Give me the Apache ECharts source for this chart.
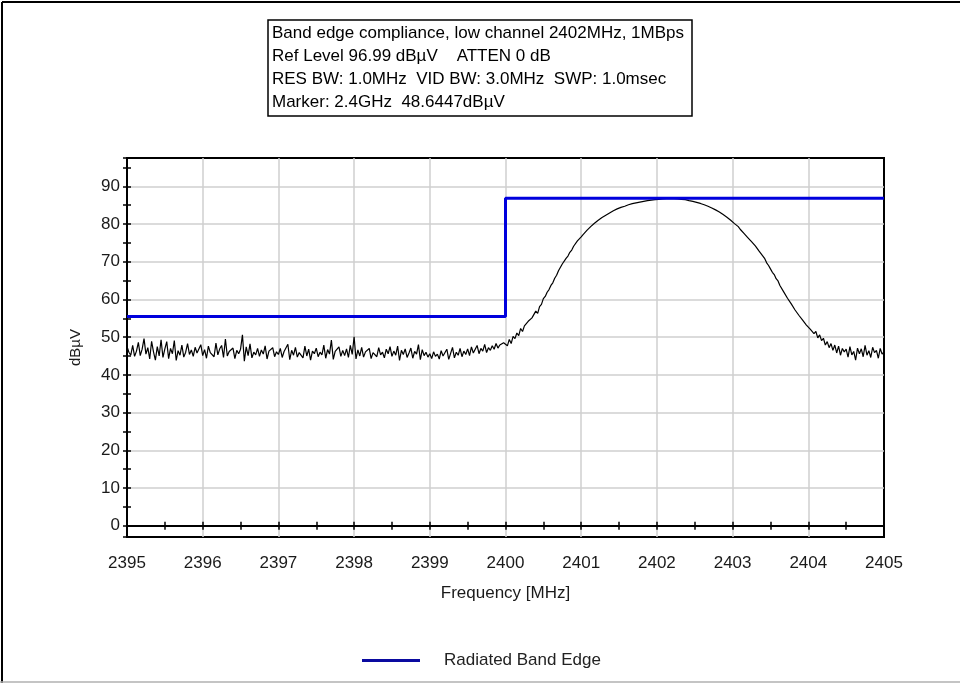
<!DOCTYPE html>
<html>
<head>
<meta charset="utf-8">
<title>Band edge compliance</title>
<script src="https://cdn.jsdelivr.net/npm/echarts@6/dist/echarts.min.js"></script>
<style>
	html, body { margin: 0; padding: 0; background: #ffffff; }
	#chart { width: 960px; height: 683px; }
</style>
</head>
<body>
<div id="chart"></div>
<script>
// sweep: 2395 .. 2405 MHz, 401 points
var sweepStart = 2395;
var sweepStep = 0.025;

// measured level below the band edge (2395.000 .. 2399.975)
var traceBelowEdge = [
	47.5, 46.0, 45.2, 47.8, 44.9, 46.3, 48.6, 45.1, 46.8, 49.6, 45.5, 47.2, 44.2, 48.9, 46.1, 43.9, 47.5, 45.0, 49.3, 44.6,
	46.9, 48.8, 44.3, 47.0, 45.6, 49.1, 43.8, 46.4, 45.2, 47.9, 44.7, 46.0, 48.3, 45.4, 46.6, 44.9, 47.3, 45.8, 46.2, 48.0,
	45.1, 46.7, 44.4, 47.6, 45.9, 46.3, 44.8, 48.4, 45.3, 46.9, 47.8, 44.6, 49.5, 45.0, 46.2, 45.7, 47.1, 44.3, 46.5, 45.6,
	46.8, 50.6, 43.6, 47.4, 45.1, 48.2, 44.5, 46.0, 45.3, 47.0, 44.9, 46.6, 45.5, 47.7, 44.2, 46.3, 45.8, 47.2, 44.8, 46.1,
	45.4, 47.0, 44.6, 46.2, 45.9, 48.1, 44.0, 46.5, 45.2, 47.3, 44.7, 45.9, 46.4, 44.5, 47.6, 45.0, 46.8, 43.9, 46.3, 45.6,
	47.1, 44.8, 46.0, 45.3, 47.9, 44.4, 46.7, 45.5, 49.2, 44.1, 46.2, 45.7, 47.4, 44.9, 46.5, 45.1, 46.9, 44.6, 47.8, 45.4,
	50.1, 44.2, 46.6, 45.0, 47.3, 44.7, 46.1, 45.8, 47.0, 44.3, 45.9, 46.4, 44.8, 47.2, 45.3, 46.0, 44.5, 46.8, 45.6, 47.5,
	44.9, 46.3, 45.2, 47.6, 43.8, 46.5, 45.4, 46.9, 44.6, 45.8, 47.1, 44.4, 46.2, 45.5, 48.0, 44.0, 46.7, 45.1, 46.0, 44.7,
	45.6, 44.3, 46.1, 44.9, 45.5, 44.2, 46.4, 45.0, 44.6, 46.8, 44.1, 45.7, 47.3, 44.5, 46.0, 45.2, 47.0, 44.8, 46.3, 45.4,
	46.9, 45.1, 47.4, 45.8, 46.2, 47.8, 45.6, 47.0, 46.3, 48.1, 45.9, 47.2, 46.5, 47.7, 46.8, 48.3, 47.1, 47.9, 47.4, 48.5
];

// measured level from the band edge up (2400.000 .. 2405.000)
var traceAboveEdge = [
	48.6, 47.7, 49.4, 48.3, 50.2, 49.6, 51.1, 50.4, 52.3, 51.5, 53.0, 52.6, 54.2, 53.8, 55.1, 55.6, 56.9, 56.3, 58.1, 58.7,
	60.2, 60.8, 61.9, 62.6, 63.7, 64.4, 65.6, 66.4, 67.6, 68.1, 69.4, 69.8, 70.9, 71.5, 72.5, 73.1, 74.1, 74.5, 75.5, 75.9,
	76.6, 77.2, 77.7, 78.3, 78.8, 79.3, 79.7, 80.2, 80.6, 81.0, 81.3, 81.7, 82.0, 82.3, 82.6, 82.9, 83.2, 83.5, 83.7, 84.0,
	84.2, 84.4, 84.6, 84.7, 84.9, 85.1, 85.2, 85.4, 85.5, 85.6, 85.7, 85.8, 85.9, 86.0, 86.1, 86.2, 86.3, 86.35, 86.4, 86.45,
	86.5, 86.55, 86.6, 86.65, 86.7, 86.7, 86.75, 86.75, 86.7, 86.7, 86.7, 86.65, 86.6, 86.55, 86.5, 86.45, 86.3, 86.2, 86.1, 86.0,
	85.9, 85.75, 85.6, 85.45, 85.3, 85.1, 84.9, 84.7, 84.5, 84.25, 84.0, 83.75, 83.5, 83.2, 82.85, 82.5, 82.2, 81.8, 81.4, 81.0,
	80.6, 80.1, 79.6, 79.3, 78.6, 78.3, 77.5, 77.2, 76.4, 76.0, 75.3, 75.0, 74.2, 73.7, 72.8, 72.4, 71.5, 70.8, 69.7, 69.0,
	68.1, 67.2, 66.6, 65.5, 64.9, 63.7, 63.4, 62.0, 61.7, 60.3, 60.2, 58.8, 58.7, 57.2, 57.3, 55.8, 55.9, 54.5, 54.6, 53.2,
	53.4, 52.1, 52.6, 50.9, 51.5, 49.8, 50.6, 49.1, 49.7, 47.9, 48.8, 47.2, 48.3, 46.5, 47.9, 45.8, 47.6, 45.2, 47.0, 46.1,
	46.8, 44.7, 47.5, 45.3, 46.2, 43.9, 47.1, 45.6, 46.9, 44.8, 47.8, 45.2, 46.4, 44.6, 47.3, 45.9, 46.5, 44.4, 47.0, 45.5,
	46.1
];

// limit line (Radiated Band Edge)
var limitFreq = [2395, 2400, 2400, 2405];
var limitLevel = [55.5, 55.5, 86.8, 86.8];

var headerLines = [
	'Band edge compliance, low channel 2402MHz, 1MBps',
	'Ref Level 96.99 dB\u00b5V    ATTEN 0 dB',
	'RES BW: 1.0MHz  VID BW: 3.0MHz  SWP: 1.0msec',
	'Marker: 2.4GHz  48.6447dB\u00b5V'
];

function showSweep() {
	var myChart = echarts.init(document.getElementById('chart'));

	var trace = traceBelowEdge.concat(traceAboveEdge);
	var traceData = [];
	for (var i = 0; i < trace.length; i++) {
		traceData.push([ +(sweepStart + i * sweepStep).toFixed(3), trace[i] ]);
	}
	var limitData = [];
	for (var j = 0; j < limitFreq.length; j++) {
		limitData.push([ limitFreq[j], limitLevel[j] ]);
	}

	var labelFont = {
		fontFamily : 'Liberation Sans, Arial, sans-serif',
		fontSize : 17,
		color : '#1a1a1a'
	};
	var gridLine = {
		show : true,
		showMinLine : false,
		showMaxLine : false,
		lineStyle : {
			color : '#cfcfcf',
			width : 1.5
		}
	};
	var tickLine = { color : '#000000', width : 1.5 };

	var option = {
		backgroundColor : '#ffffff',
		animation : false,
		title : {
			text : headerLines.join('\n'),
			left : 268,
			top : 20,
			padding : [ 2, 8, 2, 4 ],
			borderColor : '#000000',
			borderWidth : 1.5,
			textStyle : {
				fontFamily : 'Liberation Sans, Arial, sans-serif',
				fontSize : 17,
				fontWeight : 'normal',
				color : '#000000',
				lineHeight : 23
			}
		},
		legend : {
			left : 357,
			top : 647,
			itemWidth : 58,
			itemHeight : 3,
			data : [ {
				name : 'Radiated Band Edge',
				icon : 'rect',
				itemStyle : { color : '#0a0aa0' }
			} ],
			textStyle : {
				fontFamily : 'Liberation Sans, Arial, sans-serif',
				fontSize : 17,
				color : '#222222',
				padding : [ 0, 0, 0, 19 ]
			}
		},
		grid : {
			left : 127,
			right : 76,
			top : 158,
			bottom : 146,
			show : true,
			borderColor : '#000000',
			borderWidth : 2
		},
		xAxis : [ {
			type : 'value',
			position : 'bottom',
			min : 2395,
			max : 2405,
			interval : 1,
			name : 'Frequency [MHz]',
			nameLocation : 'middle',
			nameGap : 48,
			nameTextStyle : labelFont,
			axisLine : {
				onZero : true,
				lineStyle : { color : '#000000', width : 2 }
			},
			axisTick : { length : 4, lineStyle : tickLine },
			minorTick : { show : true, splitNumber : 2, length : 4, lineStyle : tickLine },
			axisLabel : {
				margin : 18,
				fontFamily : labelFont.fontFamily,
				fontSize : labelFont.fontSize,
				color : labelFont.color,
				formatter : function (v) {
					return String(v);
				}
			},
			splitLine : gridLine
		}, {
			// upper half of the crossing ticks on the zero line
			type : 'value',
			position : 'top',
			min : 2395,
			max : 2405,
			interval : 1,
			axisLine : { onZero : true, show : false },
			axisTick : { length : 4, lineStyle : tickLine },
			minorTick : { show : true, splitNumber : 2, length : 4, lineStyle : tickLine },
			axisLabel : { show : false },
			splitLine : { show : false }
		} ],
		yAxis : [ {
			type : 'value',
			position : 'left',
			min : -3,
			max : 97.5,
			splitNumber : 10,
			name : 'dB\u00b5V',
			nameLocation : 'middle',
			nameRotate : 90,
			nameGap : 44,
			nameTextStyle : {
				fontFamily : labelFont.fontFamily,
				fontSize : 15,
				color : '#1a1a1a'
			},
			axisLine : {
				show : true,
				lineStyle : { color : '#000000', width : 2 }
			},
			axisTick : { length : 4, lineStyle : tickLine },
			minorTick : { show : true, splitNumber : 2, length : 4, lineStyle : tickLine },
			axisLabel : {
				margin : 7,
				showMinLabel : false,
				showMaxLabel : false,
				fontFamily : labelFont.fontFamily,
				fontSize : labelFont.fontSize,
				color : labelFont.color
			},
			splitLine : gridLine
		}, {
			// inner half of the crossing ticks on the left frame
			type : 'value',
			position : 'right',
			offset : -757,
			min : -3,
			max : 97.5,
			splitNumber : 10,
			axisLine : { show : false },
			axisTick : { length : 4, lineStyle : tickLine },
			minorTick : { show : true, splitNumber : 2, length : 4, lineStyle : tickLine },
			axisLabel : { show : false },
			splitLine : { show : false }
		} ],
		graphic : [ {
			type : 'line',
			shape : { x1 : 2, y1 : 2, x2 : 960, y2 : 2 },
			style : { stroke : '#000000', lineWidth : 2 }
		}, {
			type : 'line',
			shape : { x1 : 2, y1 : 2, x2 : 2, y2 : 683 },
			style : { stroke : '#000000', lineWidth : 2 }
		}, {
			type : 'line',
			shape : { x1 : 0, y1 : 682, x2 : 960, y2 : 682 },
			style : { stroke : '#b0b0b0', lineWidth : 1.5 }
		} ],
		series : [ {
			name : 'Trace',
			type : 'line',
			xAxisIndex : 0,
			yAxisIndex : 0,
			showSymbol : false,
			symbol : 'none',
			lineStyle : { color : '#000000', width : 1.2 },
			itemStyle : { color : '#000000' },
			data : traceData
		}, {
			name : 'Radiated Band Edge',
			type : 'line',
			xAxisIndex : 0,
			yAxisIndex : 0,
			showSymbol : false,
			symbol : 'none',
			lineStyle : { color : '#0000dd', width : 3 },
			itemStyle : { color : '#0000dd' },
			data : limitData
		} ]
	};

	myChart.setOption(option);
}
showSweep();
</script>
</body>
</html>
